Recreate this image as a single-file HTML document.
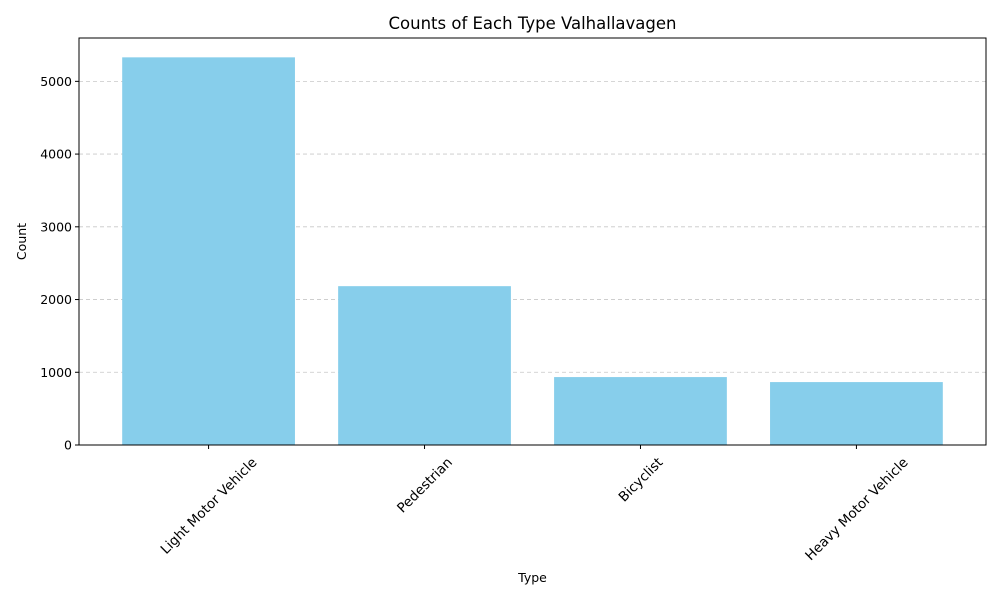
<!DOCTYPE html>
<html><head><meta charset="utf-8"><style>
body{margin:0;background:#fff;font-family:"DejaVu Sans","Liberation Sans",sans-serif;}
</style></head><body>
<svg id="chart" width="1000" height="600" xmlns="http://www.w3.org/2000/svg" font-family="DejaVu Sans, Liberation Sans, sans-serif"></svg>
<script>
const categories = ["Light Motor Vehicle","Pedestrian","Bicyclist","Heavy Motor Vehicle"];
const counts = [5330, 2184, 934, 865];
const yTicks = [0,1000,2000,3000,4000,5000];

const svg = document.getElementById('chart');
const NS = 'http://www.w3.org/2000/svg';
const L=79, R=986, T=38, B=445;
const yMax = 5596;
const xMin=-0.6, xMax=categories.length-0.4;
const x = v => L + (v - xMin)/(xMax - xMin)*(R-L);
const y = v => B - v/yMax*(B-T);
function mk(tag, attrs, parent){const e=document.createElementNS(NS,tag);for(const k in attrs)e.setAttribute(k,attrs[k]);(parent||svg).appendChild(e);return e;}

yTicks.forEach(t=>{
  const g=mk('line',{x1:L,x2:R,y1:y(t),y2:y(t),stroke:'#c8c8c8','stroke-dasharray':'4,3','stroke-width':0.8});
  
  
});
categories.forEach((c,i)=>{
  const r=mk('rect',{x:x(i-0.4),y:y(counts[i]),width:x(i+0.4)-x(i-0.4),height:y(0)-y(counts[i]),fill:'#87ceeb'});
  
  
});
const fr=mk('rect',{x:L,y:T,width:R-L,height:B-T,fill:'none',stroke:'#000','stroke-width':1});


yTicks.forEach(t=>{
  mk('line',{x1:L-4,x2:L,y1:y(t),y2:y(t),stroke:'#000'});
  const tx=mk('text',{x:L-7,y:y(t)+4.5,'text-anchor':'end','font-size':12.5});
  tx.textContent=t;
  
  
});
categories.forEach((c,i)=>{
  const cx=x(i);
  mk('line',{x1:cx,x2:cx,y1:B,y2:B+4,stroke:'#000'});
  const tx=mk('text',{x:cx,y:0,'text-anchor':'middle','font-size':13.5});
  tx.textContent=c;
  
  
  const len=tx.getComputedTextLength();
  const h=(len+13.5)*0.7071;
  const cy=B+10+h/2;
  tx.setAttribute('y',cy+4.7);
  tx.setAttribute('transform',`rotate(-45 ${cx} ${cy})`);
});
const title=mk('text',{x:(L+R)/2,y:29,'text-anchor':'middle','font-size':16.5});
title.textContent='Counts of Each Type Valhallavagen';


const xl=mk('text',{x:(L+R)/2,y:582,'text-anchor':'middle','font-size':12.5});
xl.textContent='Type';


const yl=mk('text',{x:26,y:(T+B)/2,'text-anchor':'middle','font-size':12.5,transform:`rotate(-90 26 ${(T+B)/2})`});
yl.textContent='Count';


</script>
</body></html>
